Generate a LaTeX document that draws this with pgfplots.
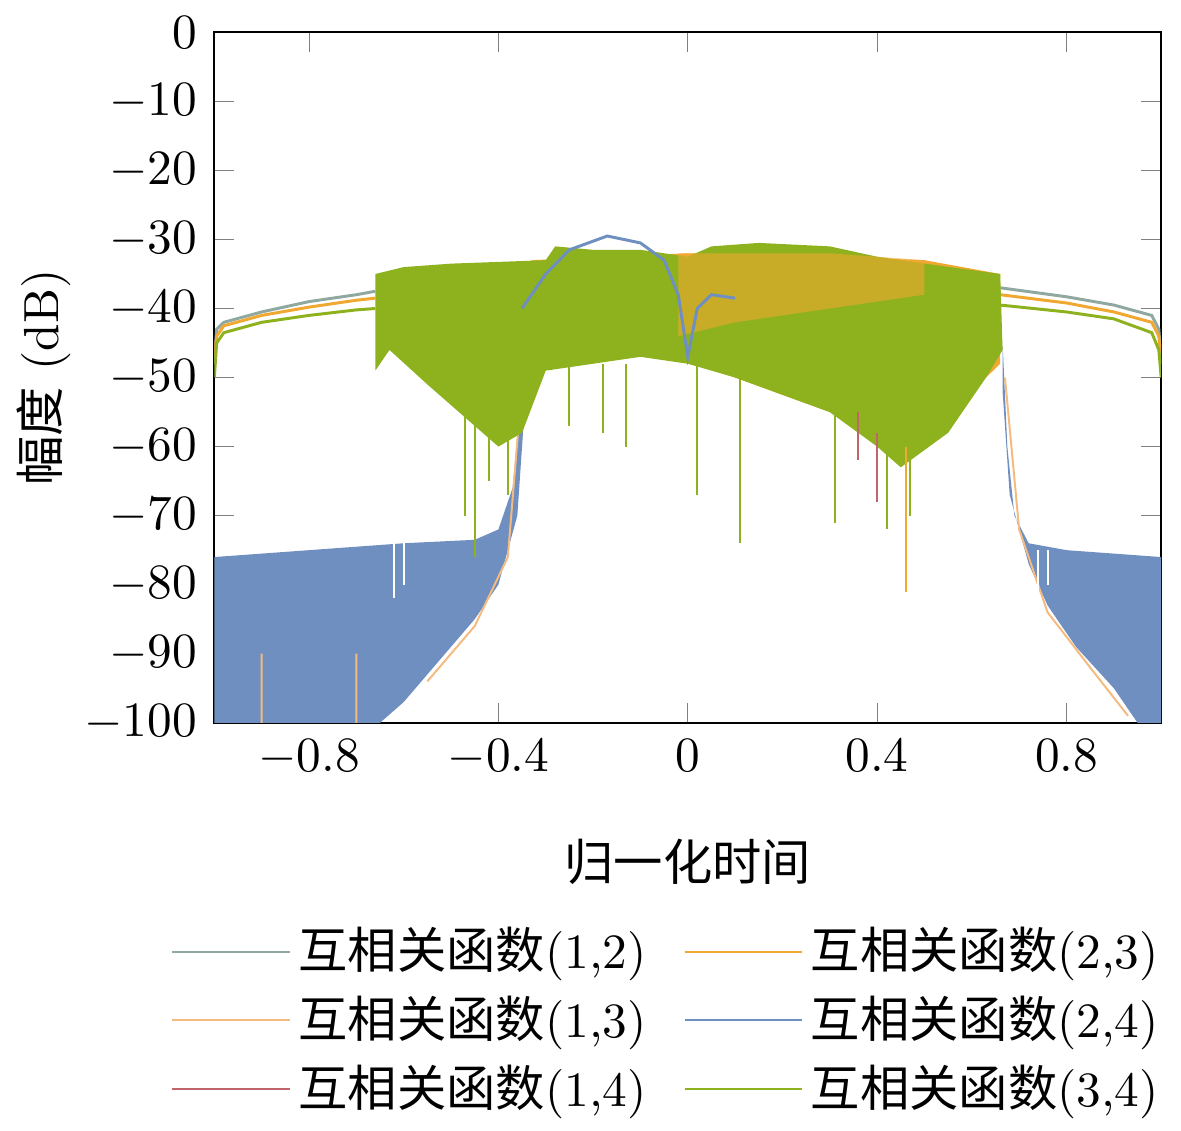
\documentclass[border=0pt]{standalone}
\usepackage{pgfplots}
\pgfplotsset{compat=1.18}
\usepackage{fontspec}
\newfontfamily\cjk{Noto Sans CJK SC}
\definecolor{cA}{HTML}{8FA8A0}
\definecolor{cB}{HTML}{F5BA80}
\definecolor{cC}{HTML}{C0666A}
\definecolor{cD}{HTML}{F0A830}
\definecolor{cE}{HTML}{6E8FC0}
\definecolor{cF}{HTML}{8DB21E}
\begin{document}
\begin{tikzpicture}
\begin{axis}[width=192pt,height=140pt,scale only axis,
 xmin=-1,xmax=1,ymin=-100,ymax=0,
 xtick={-0.8,-0.4,0,0.4,0.8},ytick={0,-10,...,-100},
 xticklabels={$-0.8$,$-0.4$,$0$,$0.4$,$0.8$},
 tick align=inside, major tick length=4pt,
 xlabel={\cjk 归一化时间}, ylabel={{\cjk 幅度} (dB)},
 xlabel style={yshift=-6pt},
 ylabel style={yshift=-4pt},
 unbounded coords=jump,
 legend columns=2,
 legend style={draw=none,at={(0.48,-0.27)},anchor=north,/tikz/every even column/.append style={column sep=6pt},row sep=1pt,nodes={inner sep=1.5pt}},
 legend image post style={xscale=1.4},
 legend cell align=left]
% blue outer bands
\addplot[fill=cE,draw=none,forget plot] coordinates {(-1,-76)(-0.8,-75)(-0.6,-74)(-0.45,-73.5)(-0.4,-72)(-0.37,-66)(-0.355,-55)(-0.345,-45)(-0.345,-55)(-0.36,-70)(-0.4,-80)(-0.45,-85)(-0.5,-89)(-0.55,-93)(-0.6,-97)(-0.65,-100)(-1,-100)};
\addplot[fill=cE,draw=none,forget plot] coordinates {(1,-76)(0.8,-75)(0.72,-74)(0.69,-70)(0.675,-60)(0.665,-45)(0.665,-52)(0.68,-67)(0.72,-77)(0.76,-83)(0.82,-89)(0.9,-95)(0.95,-100)(1,-100)};
\addplot[cB,thin,forget plot] coordinates {(-0.55,-94)(-0.45,-86)(-0.38,-76)(-0.355,-55)(nan,nan)(0.67,-50)(0.7,-72)(0.76,-84)(0.85,-92)(0.93,-99)(nan,nan)(-0.9,-90)(-0.9,-100)(nan,nan)(-0.7,-90)(-0.7,-100)};
\addplot[white,thin,forget plot] coordinates {(-0.62,-74)(-0.62,-82)(nan,nan)(-0.6,-74)(-0.6,-80)(nan,nan)(0.74,-75)(0.74,-82)(nan,nan)(0.76,-75)(0.76,-80)};
% smooth outer lines
\addplot[cA,semithick,forget plot] coordinates {(-1,-48)(-0.995,-43)(-0.98,-42)(-0.9,-40.5)(-0.8,-39)(-0.7,-38)(-0.66,-37.5)(nan,nan)(0.66,-37)(0.8,-38.3)(0.9,-39.5)(0.98,-41)(0.995,-43)(1,-48)};
\addplot[cD,semithick,forget plot] coordinates {(-1,-47)(-0.995,-44)(-0.98,-42.5)(-0.9,-41)(-0.8,-39.8)(-0.7,-38.8)(-0.66,-38.5)(nan,nan)(0.66,-38)(0.8,-39.2)(0.9,-40.5)(0.98,-42)(0.995,-44)(1,-48)};
\addplot[cF,semithick,forget plot] coordinates {(-1,-50)(-0.995,-45)(-0.98,-43.5)(-0.9,-42)(-0.8,-41)(-0.7,-40.2)(-0.66,-40)(nan,nan)(0.66,-39.5)(0.8,-40.5)(0.9,-41.5)(0.98,-43.5)(0.995,-46)(1,-50)};
% orange band
\addplot[fill=cD,draw=none,forget plot] coordinates {(-0.33,-33)(0,-32)(0.3,-32.5)(0.5,-33)(0.66,-35)(0.66,-48)(0.6,-52)(0.5,-58)(0.45,-62)(0.3,-55)(0.1,-50)(-0.1,-45)(-0.33,-45)};
% green band
\addplot[fill=cF,draw=none,forget plot] coordinates {(-0.66,-35)(-0.6,-34)(-0.5,-33.5)(-0.3,-33)(-0.28,-31)(-0.2,-31.5)(-0.1,-31.5)(0,-32.5)(0.05,-31)(0.15,-30.5)(0.3,-31)(0.4,-32.5)(0.5,-33.5)(0.66,-35)(0.665,-46)(0.63,-50)(0.55,-58)(0.45,-63)(0.4,-60)(0.3,-55)(0.1,-50)(0,-48)(-0.1,-47)(-0.3,-49)(-0.35,-58)(-0.4,-60)(-0.45,-57)(-0.55,-51)(-0.63,-46)(-0.66,-49)};
\addplot[fill=cD,draw=none,opacity=0.6,forget plot] coordinates {(-0.02,-32)(0.3,-32)(0.5,-33)(0.5,-38)(0.3,-40)(0.1,-42)(-0.02,-44)};
% spikes
\addplot[cF,forget plot] coordinates {(-0.47,-55)(-0.47,-70)(nan,nan)(-0.45,-55)(-0.45,-76)(nan,nan)(-0.42,-55)(-0.42,-65)(nan,nan)(-0.38,-55)(-0.38,-67)(nan,nan)(-0.18,-48)(-0.18,-58)(nan,nan)(-0.13,-48)(-0.13,-60)(nan,nan)(0.02,-48)(0.02,-67)(nan,nan)(0.11,-50)(0.11,-74)(nan,nan)(0.31,-55)(0.31,-71)(nan,nan)(0.42,-60)(0.42,-72)(nan,nan)(0.47,-60)(0.47,-70)(nan,nan)(-0.25,-48)(-0.25,-57)};
\addplot[cD,forget plot] coordinates {(0.46,-60)(0.46,-81)};
\addplot[cC,forget plot] coordinates {(0.4,-58)(0.4,-68)(nan,nan)(0.36,-55)(0.36,-62)};
% blue hump
\addplot[cE,semithick,forget plot] coordinates {(-0.35,-40)(-0.3,-35)(-0.25,-31.5)(-0.17,-29.5)(-0.1,-30.5)(-0.05,-33)(-0.02,-38)(0,-47)(0.02,-40)(0.05,-38)(0.1,-38.5)};
% legend
\addlegendimage{cA}\addlegendentry{{\cjk 互相关函数}(1,2)}
\addlegendimage{cD}\addlegendentry{{\cjk 互相关函数}(2,3)}
\addlegendimage{cB}\addlegendentry{{\cjk 互相关函数}(1,3)}
\addlegendimage{cE}\addlegendentry{{\cjk 互相关函数}(2,4)}
\addlegendimage{cC}\addlegendentry{{\cjk 互相关函数}(1,4)}
\addlegendimage{cF}\addlegendentry{{\cjk 互相关函数}(3,4)}
\end{axis}
\end{tikzpicture}
\end{document}
